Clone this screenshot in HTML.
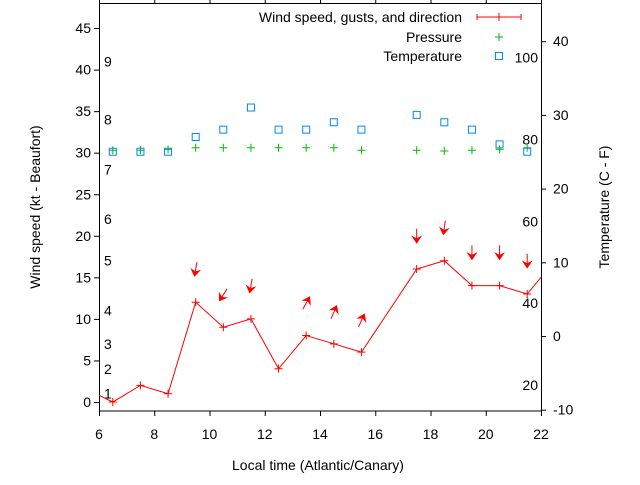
<!DOCTYPE html>
<html><head><meta charset="utf-8"><style>
html,body{margin:0;padding:0;background:#fff;}
svg text{font-family:"Liberation Sans",sans-serif;font-size:14px;fill:#000;}
</style></head><body>
<svg id="chart" width="640" height="480" xmlns="http://www.w3.org/2000/svg">
<defs><clipPath id="pc"><rect x="99" y="3" width="442" height="408"/></clipPath></defs>
<g id="axes"></g>
<g id="marks" clip-path="url(#pc)"></g>
<g id="legend">
<text x="462" y="22" text-anchor="end">Wind speed, gusts, and direction</text>
<g stroke="#f00" stroke-width="1"><line x1="477" y1="17" x2="521" y2="17"/><line x1="477" y1="14" x2="477" y2="20"/><line x1="521" y1="14" x2="521" y2="20"/><line x1="499" y1="13" x2="499" y2="21"/></g>
<text x="462" y="42" text-anchor="end">Pressure</text>
<g stroke="#0b0" stroke-width="1"><line x1="495" y1="37" x2="503" y2="37"/><line x1="499" y1="33" x2="499" y2="41"/></g>
<text x="462" y="61" text-anchor="end">Temperature</text>
<rect x="495.5" y="52.5" width="7" height="7" fill="none" stroke="#08f"/>
</g>
</svg>
<script>
const hours=[6.5,7.5,8.5,9.5,10.5,11.5,12.5,13.5,14.5,15.5,17.5,18.5,19.5,20.5,21.5];
const windKt=[0,2,1,12,9,10,4,8,7,6,16,17,14,14,13];
const gustKt=[null,null,null,16,12.9,14,null,11.9,10.8,9.8,20,21,18,18,17];
const windDir=[null,null,null,10,33,10,null,209,203,204,0,8,0,0,0];
const pressure=[30.3,30.3,30.4,30.6,30.6,30.6,30.6,30.6,30.6,30.3,30.3,30.2,30.3,30.4,30.6];
const tempC=[25,25,25,27,28,31,28,28,29,28,30,29,28,26,25];
const xTicks=[6,8,10,12,14,16,18,20,22];
const yTicks=[0,5,10,15,20,25,30,35,40,45];
const y2Ticks=[-10,0,10,20,30,40];
const beaufort=[[1,1],[2,4],[3,7],[4,11],[5,17],[6,22],[7,28],[8,34],[9,41]];
const fahr=[20,40,60,80,100];
const NS='http://www.w3.org/2000/svg';
const X=v=>99+(v-6)*27.625;
const Y=v=>402-v*8.31;
const Y2=c=>336-c*7.37;
const axes=document.getElementById('axes'),marks=document.getElementById('marks');
function mk(t,a,p){const e=document.createElementNS(NS,t);for(const k in a)e.setAttribute(k,a[k]);p.appendChild(e);return e;}
const fr=mk('rect',{x:99.5,y:3.5,width:442,height:407.5,fill:'none',stroke:'#000'},axes);


xTicks.forEach(v=>{const x=X(v)+0.5;
 mk('line',{x1:x,y1:411,x2:x,y2:416,stroke:'#000'},axes);
 mk('line',{x1:x,y1:3,x2:x,y2:0,stroke:'#000'},axes);
 const t=mk('text',{x:X(v),y:439,'text-anchor':'middle'},axes);t.textContent=v;
 
 });
yTicks.forEach(v=>{const y=Y(v)+0.5;
 mk('line',{x1:94,y1:y,x2:99,y2:y,stroke:'#000'},axes);
 const t=mk('text',{x:91,y:Y(v)+5,'text-anchor':'end'},axes);t.textContent=v;
 
 });
y2Ticks.forEach(v=>{const y=Y2(v)+0.5;
 mk('line',{x1:541,y1:y,x2:546,y2:y,stroke:'#000'},axes);
 const t=mk('text',{x:553,y:Y2(v)+5},axes);t.textContent=v;
 
 });
beaufort.forEach(b=>{const t=mk('text',{x:104,y:Y(b[1])+5},axes);t.textContent=b[0];
 
 });
fahr.forEach(f=>{const t=mk('text',{x:538,y:Y2((f-32)*5/9)+5,'text-anchor':'end'},axes);t.textContent=f;
 
 });
let t=mk('text',{x:318,y:470,'text-anchor':'middle'},axes);t.textContent='Local time (Atlantic/Canary)';


t=mk('text',{x:0,y:0,'text-anchor':'middle',transform:'translate(40,207) rotate(-90)'},axes);t.textContent='Wind speed (kt - Beaufort)';


t=mk('text',{x:0,y:0,'text-anchor':'middle',transform:'translate(609,207) rotate(-90)'},axes);t.textContent='Temperature (C - F)';


const pts=[[5.5,1.6]].concat(hours.map((h,i)=>[h,windKt[i]])).concat([[22.5,17]]);
const pl=mk('polyline',{points:pts.map(p=>X(p[0])+','+Y(p[1])).join(' '),fill:'none',stroke:'#f00','stroke-width':1},marks);


hours.forEach((h,i)=>{
 const x=X(h),y=Y(windKt[i]);
 const g=mk('path',{d:`M${x-4},${y}H${x+4}M${x},${y-4}V${y+4}`,stroke:'#f00'},marks);
 
 
 const py=Y(pressure[i]);
 const p=mk('path',{d:`M${x-4},${py}H${x+4}M${x},${py-4}V${py+4}`,stroke:'#0b0'},marks);
 
 
 const ty=Y2(tempC[i]);
 const r=mk('rect',{x:x-3.5,y:ty-3.5,width:7,height:7,fill:'none',stroke:'#08f'},marks);
 
 
 if(gustKt[i]!==null){
  const a=windDir[i]*Math.PI/180,cy=Y(gustKt[i]);
  const dx=-Math.sin(a),dy=Math.cos(a),L=7;
  const x1=x-dx*L,y1=cy-dy*L,x2=x+dx*L,y2=cy+dy*L;
  const px=-dy,py2=dx;
  const ar=mk('g',{},marks);
  
  
  mk('line',{x1:x1,y1:y1,x2:x2,y2:y2,stroke:'#f00','stroke-width':1},ar);
  mk('polygon',{points:`${x2},${y2} ${x2-dx*6+px*4},${y2-dy*6+py2*4} ${x2-dx*4},${y2-dy*4} ${x2-dx*6-px*4},${y2-dy*6-py2*4}`,fill:'#f00',stroke:'#f00'},ar);
 }
});
</script>
</body></html>
